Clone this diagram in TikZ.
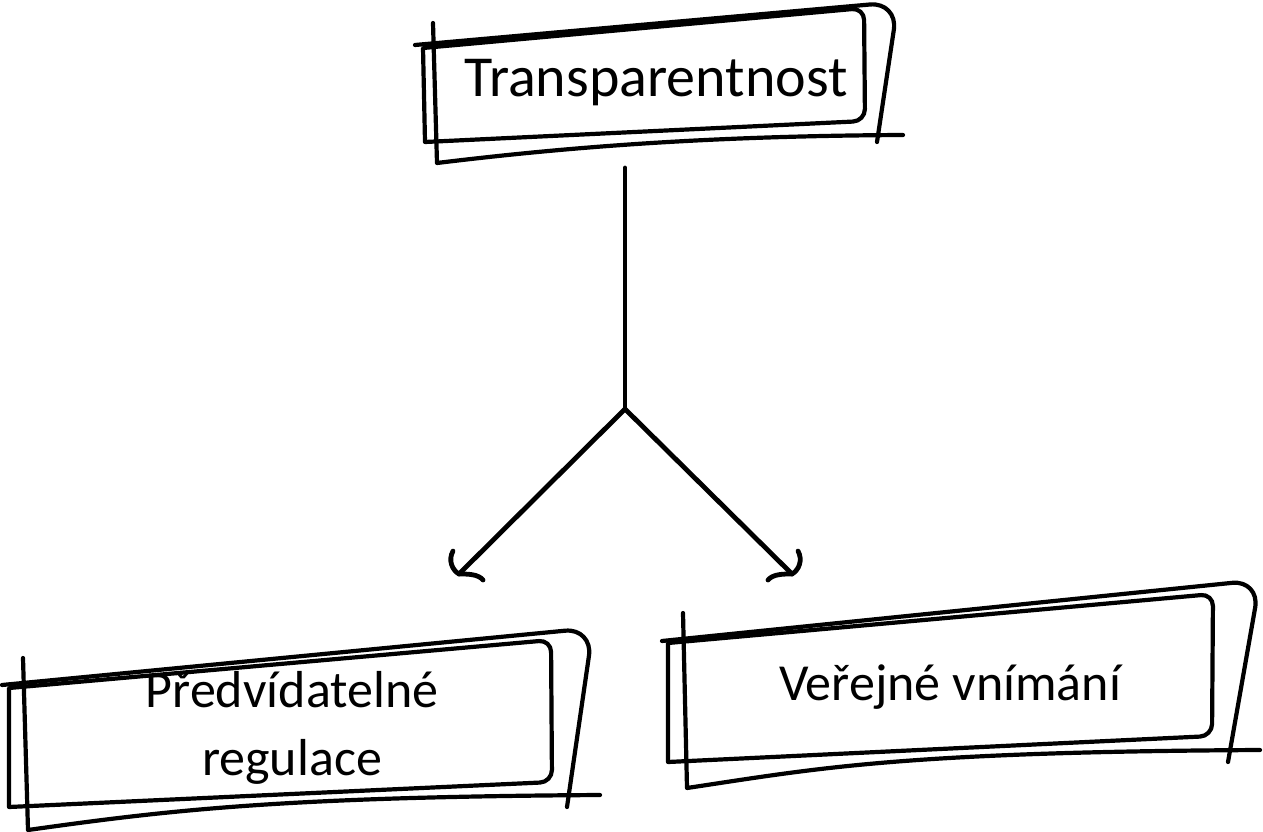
\documentclass[tikz,border=0pt]{standalone}
\usepackage{fontspec}
\setmainfont{Carlito}
\usetikzlibrary{arrows.meta}
\begin{document}
\begin{tikzpicture}[x=1pt,y=-1pt, line cap=round, line join=round,
  pen/.style={line width=4.2pt},
  outerc/.style={pen, rounded corners=28pt},
  link/.style={line width=4.8pt},
  lbl/.style={align=center, inner sep=0pt},
  big/.style={font=\fontsize{58}{68}\selectfont},
  mid/.style={font=\fontsize{52}{68}\selectfont}]
\useasboundingbox (0,0) rectangle (1263,832);

% top box
\draw[pen] (423,48) [rounded corners=12pt]-- (864,8) -- (865,121) [sharp corners]-- (425,142) -- cycle;
\draw[outerc] (415,45) -- (898,2) -- (877,142);
\draw[pen] (433,23) -- (437,163) .. controls (560,148) and (700,136) .. (903,135);

% bottom left box
\draw[pen] (9,688) [rounded corners=12pt]-- (551,640) -- (552,782) [sharp corners]-- (9,807) -- cycle;
\draw[outerc] (2,685) -- (593,628) -- (567,807);
\draw[pen] (23,658) -- (28,830) .. controls (170,810) and (280,797) .. (600,795);

% bottom right box
\draw[pen] (668,643) [rounded corners=12pt]-- (1213,594) -- (1212,736) [sharp corners]-- (668,762) -- cycle;
\draw[outerc] (662,641) -- (1260,580) -- (1228,762);
\draw[pen] (683,613) -- (687,788) .. controls (820,768) and (900,752) .. (1260,750);

% texts
\node[lbl, big, anchor=base] (tr) at (656,97) {Transparentnost};
\node[lbl, mid, anchor=base] (pr) at (292,775) {Předvídatelné\\regulace};
\node[lbl, mid, anchor=base] (ve) at (950,700) {Veřejné vnímání};

% connectors
\coordinate (s) at (625,168);
\coordinate (j) at (625,409);
\coordinate (la) at (459,574);
\coordinate (ra) at (792,574);
\draw[link] (s) -- (j);
\draw[link] (j) -- (la);
\draw[link] (j) -- (ra);
% arrow heads
\draw[link] ([shift={(-6,-23)}]la) .. controls ([shift={(-11,-14)}]la) and ([shift={(-7,-4)}]la) .. (la)
  .. controls ([shift={(9,0)}]la) and ([shift={(19,0)}]la) .. ([shift={(24,6)}]la);
\draw[link] ([shift={(6,-23)}]ra) .. controls ([shift={(11,-14)}]ra) and ([shift={(7,-4)}]ra) .. (ra)
  .. controls ([shift={(-9,0)}]ra) and ([shift={(-19,0)}]ra) .. ([shift={(-24,6)}]ra);
\end{tikzpicture}
\end{document}
